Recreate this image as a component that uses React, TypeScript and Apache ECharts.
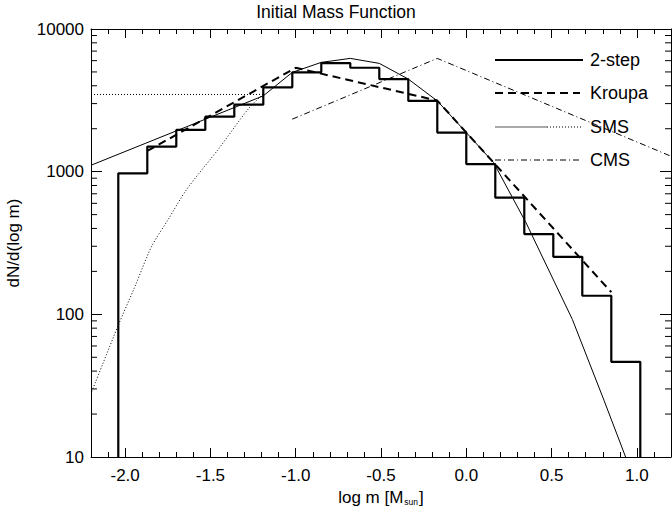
import React, { useEffect, useRef } from "react";
import * as echarts from "echarts";

// ---- data ----
const X_MIN = -2.2;
const X_MAX = 1.2;
const Y_MIN = 10;
const Y_MAX = 10000;

// histogram "2-step": bin edges (log m) and heights
const binEdges = [
  -2.04, -1.87, -1.7, -1.53, -1.36, -1.19, -1.02, -0.85, -0.68, -0.51, -0.34,
  -0.17, 0.0, 0.17, 0.34, 0.51, 0.68, 0.85, 1.02,
];
const twoStepCounts = [
  973, 1500, 1960, 2430, 2950, 3900, 4970, 5770, 5350, 4460, 3130, 1880, 1130,
  657, 365, 253, 135, 46.5,
];

// Kroupa (dashed)
const kroupaLogM = [-1.87, -1.0, -0.17, 0.85];
const kroupaVals = [1396, 5350, 3150, 143];

// SMS (thin solid)
const smsLogM = [
  -2.2, -1.19, -1.02, -0.85, -0.68, -0.51, -0.34, -0.17, 0.0, 0.16, 0.35,
  0.622, 0.807, 0.934,
];
const smsVals = [
  1109, 3400, 4966, 5836, 6223, 5741, 4456, 3133, 1880, 1157, 439, 92, 25, 10,
];

// SMS dotted parts
const smsLowLogM = [-2.195, -2.039, -1.942, -1.844, -1.747, -1.639, -1.454, -1.279, -1.193];
const smsLowVals = [28.8, 84.5, 157, 300, 463, 751, 1435, 2741, 3475];
const smsFlatLogM = [-2.2, -1.19];
const smsFlatVals = [3475, 3475];

// CMS (dash-dot)
const cmsLogM = [-1.02, -0.17, 1.2];
const cmsVals = [2334, 6223, 1283];

// y minor tick values
const yMinorTicks = [
  20, 30, 40, 50, 60, 70, 80, 90, 200, 300, 400, 500, 600, 700, 800, 900, 2000,
  3000, 4000, 5000, 6000, 7000, 8000, 9000,
];

const legendNames = ["2-step", "Kroupa", "SMS", "CMS"];

const FONT = "'Liberation Sans', Arial, Helvetica, sans-serif";

function zip(xs: number[], ys: number[]) {
  return xs.map((x, i) => [x, ys[i]]);
}

function histogramSteps(edges: number[], counts: number[]) {
  const pts: number[][] = [[edges[0], Y_MIN]];
  counts.forEach((c, i) => {
    pts.push([edges[i], c]);
    pts.push([edges[i + 1], c]);
  });
  pts.push([edges[edges.length - 1], Y_MIN]);
  return pts;
}

export default function App() {
  const ref = useRef<HTMLDivElement>(null);

  useEffect(() => {
    if (!ref.current) return;
    const chart = echarts.init(ref.current, undefined, { renderer: "svg" });

    const axisLineStyle = { color: "#000", width: 1 };
    const baseX = {
      type: "value" as const,
      min: X_MIN,
      max: X_MAX,
      splitLine: { show: false },
    };
    const tickStyle = { color: "#000", width: 1 };

    const lx1 = 495;
    const lx2 = 583;
    const lmid = 547;
    const ltx = 590;
    const ly = [60, 93, 127, 160];

    const option: any = {
      animation: false,
      backgroundColor: "#fff",
      title: {
        text: "Initial Mass Function",
        left: "center",
        top: 0,
        padding: [3, 0, 0, 0],
        textStyle: {
          fontFamily: FONT,
          fontSize: 17.5,
          fontWeight: "normal",
          color: "#000",
        },
      },
      grid: {
        left: 91,
        right: 1,
        top: 29,
        bottom: 49,
        containLabel: false,
        outerBoundsMode: "none",
      },
      xAxis: [
        {
          ...baseX,
          position: "bottom",
          name: "log m [M{sub|sun}]",
          nameLocation: "middle",
          nameGap: 26,
          nameTextStyle: {
            fontFamily: FONT,
            fontSize: 17,
            lineHeight: 18,
            color: "#000",
            rich: {
              sub: {
                fontFamily: FONT,
                fontSize: 8.5,
                lineHeight: 7,
                verticalAlign: "bottom",
                color: "#000",
                padding: [0, 1, 0, 1],
              },
            },
          },
          axisLine: { show: true, onZero: false, lineStyle: axisLineStyle },
          axisTick: { show: true, inside: true, length: 9, lineStyle: tickStyle },
          axisLabel: {
            show: true,
            margin: 10,
            fontFamily: FONT,
            fontSize: 17,
            color: "#000",
            showMinLabel: false,
            showMaxLabel: false,
            formatter: (v: number) => v.toFixed(1),
          },
        },
        {
          ...baseX,
          position: "bottom",
          interval: 0.1,
          axisLine: { show: false, onZero: false },
          axisTick: { show: true, inside: true, length: 5, lineStyle: tickStyle },
          axisLabel: { show: false },
        },
        {
          ...baseX,
          position: "top",
          axisLine: { show: true, onZero: false, lineStyle: axisLineStyle },
          axisTick: { show: true, inside: true, length: 9, lineStyle: tickStyle },
          axisLabel: { show: false },
        },
        {
          ...baseX,
          position: "top",
          interval: 0.1,
          axisLine: { show: false, onZero: false },
          axisTick: { show: true, inside: true, length: 5, lineStyle: tickStyle },
          axisLabel: { show: false },
        },
      ],
      yAxis: [
        {
          type: "log",
          logBase: 10,
          min: Y_MIN,
          max: Y_MAX,
          position: "left",
          name: "dN/d(log m)",
          nameLocation: "middle",
          nameGap: 69,
          nameTextStyle: { fontFamily: FONT, fontSize: 17, color: "#000" },
          splitLine: { show: false },
          axisLine: { show: true, onZero: false, lineStyle: axisLineStyle },
          axisTick: { show: true, inside: true, length: 11, lineStyle: tickStyle },
          axisLabel: {
            margin: 7,
            fontFamily: FONT,
            fontSize: 17,
            color: "#000",
            formatter: (v: number) => String(Math.round(v)),
          },
        },
        {
          type: "log",
          logBase: 10,
          min: Y_MIN,
          max: Y_MAX,
          position: "right",
          splitLine: { show: false },
          axisLine: { show: true, onZero: false, lineStyle: axisLineStyle },
          axisTick: { show: true, inside: true, length: 11, lineStyle: tickStyle },
          axisLabel: { show: false },
        },
      ],
      series: [
        {
          name: "y minor ticks",
          type: "custom",
          xAxisIndex: 0,
          yAxisIndex: 0,
          silent: true,
          encode: { x: 0, y: 1 },
          data: yMinorTicks.map((v) => [X_MIN, v]),
          renderItem: (_p: any, api: any) => {
            const v = api.value(1);
            const pl = api.coord([X_MIN, v]);
            const pr = api.coord([X_MAX, v]);
            const st = { stroke: "#000", lineWidth: 1 };
            return {
              type: "group",
              children: [
                { type: "line", shape: { x1: pl[0], y1: pl[1], x2: pl[0] + 6, y2: pl[1] }, style: st },
                { type: "line", shape: { x1: pr[0], y1: pr[1], x2: pr[0] - 6, y2: pr[1] }, style: st },
              ],
            };
          },
        },
        {
          name: "SMS",
          type: "line",
          data: zip(smsLogM, smsVals),
          symbol: "none",
          lineStyle: { color: "#000", width: 1 },
        },
        {
          name: "SMS (dotted)",
          type: "line",
          data: zip(smsLowLogM, smsLowVals),
          symbol: "none",
          smooth: 0.3,
          lineStyle: { color: "#000", width: 1, type: [1, 2] },
        },
        {
          name: "SMS (dotted flat)",
          type: "line",
          data: zip(smsFlatLogM, smsFlatVals),
          symbol: "none",
          lineStyle: { color: "#000", width: 1, type: [1, 2] },
        },
        {
          name: "CMS",
          type: "line",
          data: zip(cmsLogM, cmsVals),
          symbol: "none",
          lineStyle: { color: "#000", width: 1, type: [6, 3, 1, 3] },
        },
        {
          name: "Kroupa",
          type: "line",
          data: zip(kroupaLogM, kroupaVals),
          symbol: "none",
          lineStyle: { color: "#000", width: 2, type: [8, 5] },
        },
        {
          name: "2-step",
          type: "line",
          data: histogramSteps(binEdges, twoStepCounts),
          symbol: "none",
          lineStyle: { color: "#000", width: 2.2 },
        },
      ],
      graphic: [
        { type: "line", shape: { x1: lx1, y1: ly[0], x2: lx2, y2: ly[0] }, style: { stroke: "#000", lineWidth: 2.2 } },
        { type: "line", shape: { x1: lx1, y1: ly[1], x2: lx2 - 3, y2: ly[1] }, style: { stroke: "#000", lineWidth: 2, lineDash: [8, 5] } },
        { type: "line", shape: { x1: lx1, y1: ly[2], x2: lmid, y2: ly[2] }, style: { stroke: "#555", lineWidth: 1 } },
        { type: "line", shape: { x1: lmid, y1: ly[2], x2: lx2, y2: ly[2] }, style: { stroke: "#000", lineWidth: 1, lineDash: [1, 2] } },
        { type: "line", shape: { x1: lx1, y1: ly[3], x2: lx2 - 3, y2: ly[3] }, style: { stroke: "#000", lineWidth: 1, lineDash: [6, 3, 1, 3] } },
        ...legendNames.map((n, i) => ({
          type: "text",
          x: ltx,
          y: ly[i],
          style: {
            text: n,
            fontFamily: FONT,
            fontSize: 18,
            fill: "#000",
            verticalAlign: "middle",
            align: "left",
          },
        })),
      ],
    };

    chart.setOption(option);
    return () => chart.dispose();
  }, []);

  return (
    <div
      ref={ref}
      style={{ position: "fixed", left: 0, top: 0, width: 672, height: 506, background: "#fff" }}
    />
  );
}
